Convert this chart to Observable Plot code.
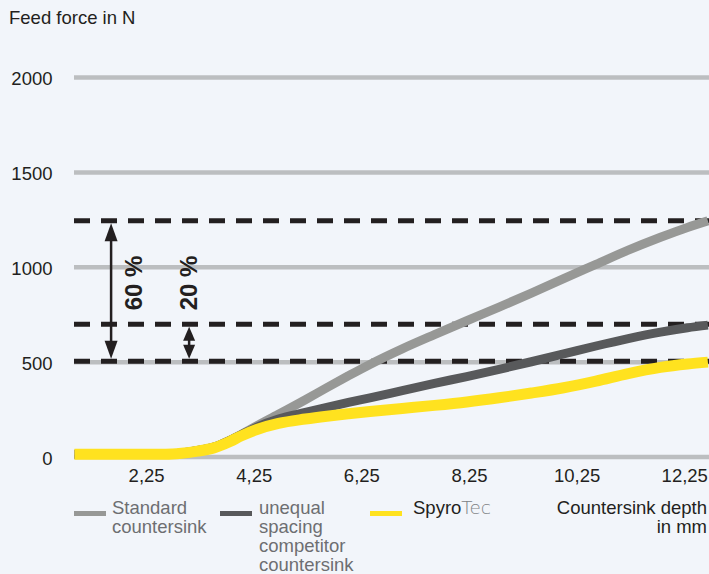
<!DOCTYPE html>
<html><head><meta charset="utf-8">
<script src="https://cdn.jsdelivr.net/npm/d3@7"></script>
<script src="https://cdn.jsdelivr.net/npm/@observablehq/plot@0.6"></script>
<style>
html,body{margin:0;padding:0;background:#f2f5fa;}
body{width:709px;height:574px;position:relative;overflow:hidden;font-family:"Liberation Sans",Arial,Helvetica,sans-serif;color:#231f20;}
#title{height:40px;box-sizing:border-box;padding:9.3px 0 0 9px;font-size:18.5px;line-height:18.5px;color:#231f20;}
#chart svg{display:block}
#legend{position:relative;height:84px;font-size:18.5px;line-height:19px;}
.sw{position:absolute;width:32px;height:5px;top:21px;}
.lt{position:absolute;top:7.5px;color:#6d6e71;}
</style></head><body>
<div id="title">Feed force in N</div>
<div id="chart"></div>
<div id="legend"></div>
<script>
// Countersink depth in mm
const depth    = [0.91, 2.6, 2.9, 3.2, 3.5, 3.8, 4.0, 4.3, 4.7, 5.2, 5.6, 6.0, 6.4, 7.0, 7.6, 8.2, 8.8, 9.4, 10.0, 10.6, 11.2, 11.8, 12.3, 12.68];
// Feed force in N
const standard = [15, 15, 21, 34, 52, 88, 118, 165, 225, 302, 366, 428, 488, 570, 645, 718, 790, 864, 940, 1015, 1090, 1158, 1210, 1245];
const unequal  = [15, 15, 21, 34, 52, 88, 116, 158, 200, 235, 262, 288, 312, 350, 388, 424, 462, 502, 543, 585, 624, 658, 681, 695];
const spyrotec = [15, 15, 20, 31, 48, 82, 110, 145, 177, 200, 215, 228, 240, 256, 272, 290, 312, 337, 365, 400, 440, 472, 490, 500];

const yTicks = [0, 500, 1000, 1500, 2000];
const xTicks = [2.25, 4.25, 6.25, 8.25, 10.25, 12.25];
const dashLevels = [1245, 700, 505];

// annotation arrows and labels
const arrowX = [1.59, 3.04];
const arrowTop = [1245, 700];
const arrowBottom = [505, 505];
const pctLabels = ["60 %", "20 %"];
const pctX = [2.03, 3.05];
const pctY = [917, 917];

const ink = "#231f20";
const cGray = "#979896", cDark = "#58595b", cYellow = "#ffe21f";

const heads = [];
arrowX.forEach((ax, i) => {
  const len = i === 0 ? 18 : 14;
  const r = i === 0 ? 6.5 : 6;
  heads.push(Plot.vector([0], {x: [ax], y: [arrowTop[i]], length: len, r, shape: "spike", rotate: 0, anchor: "end", fill: ink, stroke: "none", dy: 2.5}));
  heads.push(Plot.vector([0], {x: [ax], y: [arrowBottom[i]], length: len, r, shape: "spike", rotate: 180, anchor: "end", fill: ink, stroke: "none", dy: -2.5}));
});

const plot = Plot.plot({
  width: 709, height: 450,
  marginLeft: 74, marginRight: 0, marginTop: 37, marginBottom: 33.5,
  style: {background: "transparent", fontFamily: "Liberation Sans, Arial, sans-serif", fontSize: "18.5px", color: ink},
  x: {domain: [0.91, 12.71]},
  y: {domain: [0, 2000]},
  marks: [
    Plot.ruleY(yTicks, {stroke: "#bcbec0", strokeWidth: 4.5}),
    Plot.axisY(yTicks, {tickSize: 0, tickPadding: 22, label: null, fontSize: 18.5, fill: ink, dy: 2, tickFormat: d => String(d)}),
    Plot.axisX(xTicks, {tickSize: 0, tickPadding: 12, label: null, fontSize: 18.5, fill: ink, tickFormat: d => d.toFixed(2).replace(".", ",")}),
    Plot.ruleY(dashLevels, {stroke: ink, strokeWidth: 5, strokeDasharray: "16,11"}),
    Plot.ruleX(arrowX, {x: arrowX, y1: arrowTop, y2: arrowBottom, stroke: ink, strokeWidth: 2.5, insetTop: 8, insetBottom: 8}),
    ...heads,
    Plot.text(pctLabels, {x: pctX, y: pctY, text: pctLabels, rotate: -90, fontWeight: "bold", fontSize: 24, fill: ink}),
    Plot.line(standard, {x: depth, y: standard, stroke: cGray, strokeWidth: 9, curve: "monotone-x", strokeLinecap: "butt"}),
    Plot.line(unequal, {x: depth, y: unequal, stroke: cDark, strokeWidth: 9, curve: "monotone-x", strokeLinecap: "butt"}),
    Plot.line(spyrotec, {x: depth, y: spyrotec, stroke: cYellow, strokeWidth: 11, curve: "monotone-x", strokeLinecap: "butt"})
  ]
});
document.getElementById("chart").appendChild(plot);

const legend = document.getElementById("legend");
legend.innerHTML = `
  <div class="sw" style="left:74px;background:${cGray}"></div>
  <div class="lt" style="left:112px">Standard<br>countersink</div>
  <div class="sw" style="left:220px;background:${cDark}"></div>
  <div class="lt" style="left:259px">unequal<br>spacing<br>competitor<br>countersink</div>
  <div class="sw" style="left:370px;background:${cYellow}"></div>
  <div class="lt" style="left:413px;color:${ink}">Spyro<span style="color:#808285;font-family:'DejaVu Sans','Liberation Sans',sans-serif;font-weight:200">Tec</span></div>
  <div class="lt" style="right:2px;text-align:right;color:${ink}">Countersink depth<br>in mm</div>
`;
</script></body></html>
